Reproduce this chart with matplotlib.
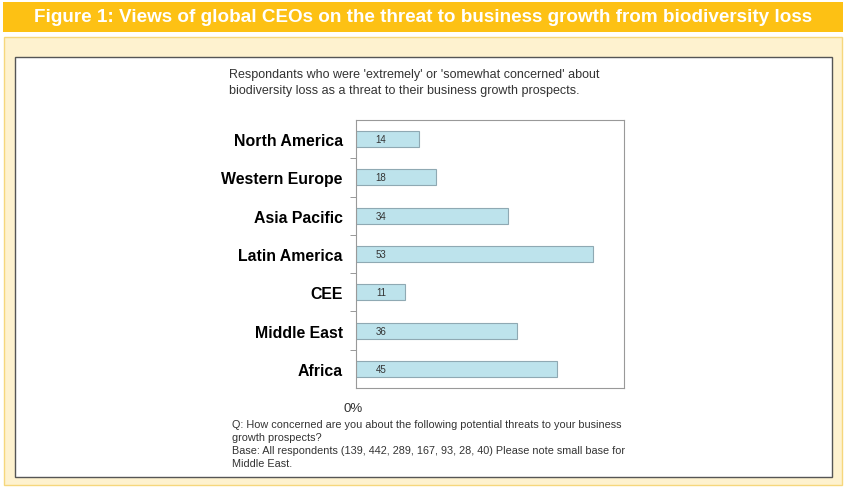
import matplotlib.pyplot as plt
from matplotlib.patches import Rectangle

# Data
regions = ["North America", "Western Europe", "Asia Pacific", "Latin America",
           "CEE", "Middle East", "Africa"]
concerned = [14, 18, 34, 53, 11, 36, 45]

title = "Figure 1: Views of global CEOs on the threat to business growth from biodiversity loss"
subtitle = ("Respondants who were 'extremely' or 'somewhat concerned' about\n"
            "biodiversity loss as a threat to their business growth prospects.")
footnote = ("Q: How concerned are you about the following potential threats to your business\n"
            "growth prospects?\n"
            "Base: All respondents (139, 442, 289, 167, 93, 28, 40) Please note small base for\n"
            "Middle East.")

W, H = 846, 489
fig = plt.figure(figsize=(W / 100, H / 100), dpi=100)
fig.patch.set_facecolor("white")

# background panels in pixel coords
bg = fig.add_axes([0, 0, 1, 1])
bg.set_xlim(0, W)
bg.set_ylim(H, 0)
bg.axis("off")
bg.add_patch(Rectangle((3, 3), 840, 30, facecolor="#FDC114", edgecolor="none"))
bg.add_patch(Rectangle((4, 38), 838, 448, facecolor="#FEF2CF", edgecolor="#F6D77C", lw=1))
bg.add_patch(Rectangle((15, 58), 817, 420, facecolor="white", edgecolor="#555555", lw=1))
bg.text(W / 2, 18, title, ha="center", va="center", color="white",
        fontsize=13.6, fontweight="bold", family="Liberation Sans")
bg.text(229, 83, subtitle, ha="left", va="center", color="#333333",
        fontsize=9, family="Liberation Sans", linespacing=1.35)
bg.text(232, 444.5, footnote, ha="left", va="center", color="#333333",
        fontsize=7.8, family="Liberation Sans", linespacing=1.4)
bg.text(353, 409, "0%", ha="center", va="center", color="#333333",
        fontsize=9.5, family="Liberation Sans")

# bar chart
ax = fig.add_axes([356 / W, 1 - 389 / H, (624 - 356) / W, (389 - 121) / H])
ypos = range(len(regions))
ax.barh(ypos, concerned, height=0.42, color="#BDE3EC", edgecolor="#8FA9B3", lw=0.8)
for y, v in zip(ypos, concerned):
    ax.text(5.6, y, str(v), ha="center", va="center", fontsize=7,
            color="#333333", family="Liberation Sans")
ax.set_xlim(0, 60)
ax.set_ylim(len(regions) - 0.5, -0.5)
ax.set_yticks(list(ypos))
ax.set_yticklabels(regions, fontsize=11.4, fontweight="bold", family="Liberation Sans")
ax.tick_params(axis="y", length=0, pad=9.5)
ax.set_yticks([i + 0.5 for i in range(len(regions) - 1)], minor=True)
ax.tick_params(axis="y", which="minor", length=4, color="#888888", direction="out")
ax.set_xticks([])
for s in ax.spines.values():
    s.set_color("#999999")
    s.set_linewidth(0.8)

fig.savefig("out.png", dpi=100)
